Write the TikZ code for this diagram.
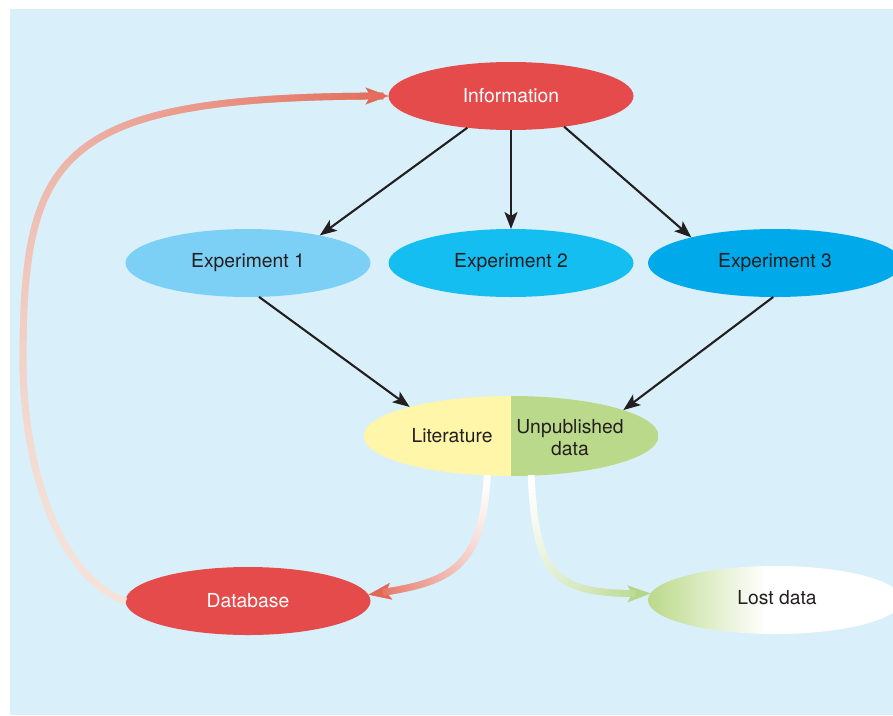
\documentclass[tikz,border=0pt]{standalone}
\usepackage{fontspec}
\setmainfont{TeX Gyre Heros}
\usetikzlibrary{shapes.geometric,arrows.meta,decorations.markings}
\definecolor{bgblue}{RGB}{217,240,250}
\definecolor{nodered}{RGB}{229,75,75}
\definecolor{exoneblue}{RGB}{125,208,245}
\definecolor{extwoblue}{RGB}{20,190,240}
\definecolor{exthreeblue}{RGB}{0,169,233}
\definecolor{lityellow}{RGB}{255,246,170}
\definecolor{unpgreen}{RGB}{187,217,138}
\definecolor{inkdark}{RGB}{35,31,32}
\definecolor{palered}{RGB}{245,227,218}
\definecolor{arrowred}{RGB}{226,104,86}
\definecolor{arrowgreen}{RGB}{181,214,136}
\pgfdeclarehorizontalshading{lostshade}{100bp}{color(0bp)=(unpgreen); color(25bp)=(unpgreen); color(48bp)=(white); color(100bp)=(white)}
\tikzset{
  oval/.style={ellipse, inner sep=0pt, outer sep=0pt, minimum width=245pt, minimum height=68pt,
    font=\fontsize{19.3}{22}\selectfont, text=inkdark, align=center},
  lbl/.style={inner sep=0pt, font=\fontsize{19.3}{22}\selectfont, text=inkdark, align=center},
  blackarrow/.style={draw=inkdark, line width=2.1pt, -{Stealth[length=17pt,width=13pt,inset=4pt]}},
  gradarrow/.style n args={3}{line width=0.4pt, draw=#2, -{Stealth[length=23pt,width=17pt,inset=5pt]},
    postaction={decorate, decoration={markings,
      mark=between positions 0 and -16pt step 0.7pt with {%
        \pgfmathsetmacro\gradpc{100*(\pgfkeysvalueof{/pgf/decoration/mark info/distance from start}/\pgfdecoratedpathlength)^#3}%
        \fill[#2!\gradpc!#1] (-0.6pt,-3.4pt) rectangle (0.6pt,3.4pt);}}}}
}
\begin{document}
\begin{tikzpicture}[x=1pt,y=-1pt]
\useasboundingbox (0,0) rectangle (893,715);
\fill[bgblue] (10,9) rectangle (893,715);

\node[oval, fill=nodered, text=white] (info) at (511,96) {Information};
\node[oval, fill=exoneblue] (e1) at (248,263) {Experiment 1};
\node[oval, fill=extwoblue] (e2) at (511,263) {Experiment 2};
\node[oval, fill=exthreeblue, minimum width=254pt] (e3) at (775,263) {Experiment 3};
\node[oval, minimum width=295pt, minimum height=80pt,
  path picture={\fill[lityellow] (path picture bounding box.south west) rectangle (path picture bounding box.north);
                \fill[unpgreen] (path picture bounding box.south) rectangle (path picture bounding box.north east);}]
  (lit) at (511,436) {};
\node[lbl] (littext) at (452,436) {Literature};
\node[lbl] (unptext) at (570,438) {Unpublished\\data};
\node[oval, fill=nodered, text=white] (db) at (248,601) {Database};
\node[oval, minimum width=254pt, shade, shading=lostshade] (lost) at (775,600) {};
\node[lbl] (losttext) at (777,598) {Lost data};

\coordinate (bend) at (23,360);

\draw[blackarrow] (info.216) -- (e1.21);
\draw[blackarrow] (info.south) -- (e2.north);
\draw[blackarrow] (info.-30) -- (e3.163);
\draw[blackarrow] (e1.-72) -- (lit.164);
\draw[blackarrow] (e3.-93) -- (lit.13);

\draw[gradarrow={palered}{arrowred}{1.8}] (db.west) .. controls (60,578) and (23,470) .. (bend)
  .. controls (23,150) and (60,96) .. (info.west);
\draw[gradarrow={white}{arrowred}{1.4}] (lit.239) .. controls (482,575) and (445,583) .. (db.3);
\draw[gradarrow={white}{arrowgreen}{1.4}] (lit.-63) .. controls (536,580) and (555,595) .. (lost.177);
\end{tikzpicture}
\end{document}
